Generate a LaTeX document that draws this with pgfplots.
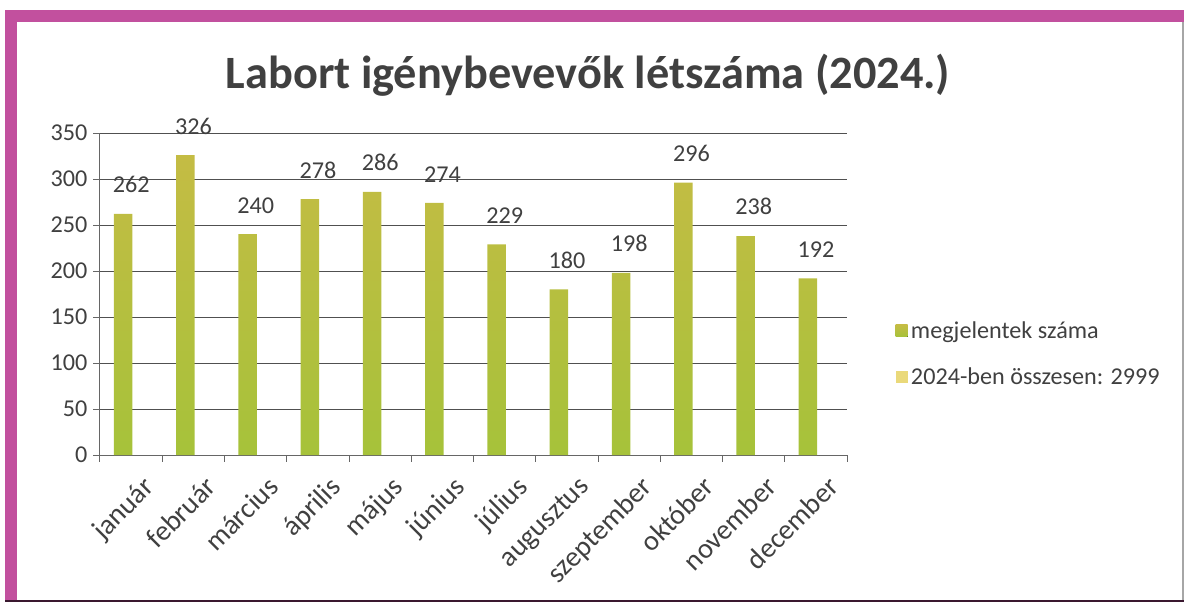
\documentclass[border=0pt]{standalone}
\usepackage{pgfplots}
\pgfplotsset{compat=1.18}
\usepackage{fontspec}
\setmainfont{Carlito}
\definecolor{txt}{HTML}{404040}
\definecolor{frameM}{HTML}{C2509E}
\definecolor{barTop}{HTML}{C4BC44}
\definecolor{barBot}{HTML}{A6C23A}
\definecolor{legY}{HTML}{EAD97A}
\definecolor{gridc}{HTML}{505050}
\pgfplotstableread{
x y
0 262
1 326
2 240
3 278
4 286
5 274
6 229
7 180
8 198
9 296
10 238
11 192
}\datatable
\begin{document}
\begin{tikzpicture}[x=0.6pt,y=0.6pt]
\path[use as bounding box] (0,0) rectangle (1188,604);
% frame
\fill[frameM] (5,2) rectangle (17,594);
\fill[frameM] (5,582) rectangle (1184,594);
\draw[gray!70, line width=0.8pt] (1183,4) -- (1183,582);
\draw[black!70!frameM, line width=1.2pt] (5,3) -- (1184,3);
% title
\node[text=txt, font=\fontsize{27.8}{30}\selectfont\bfseries] at (588,529) {Labort igénybevevők létszáma (2024.)};
\begin{axis}[
  at={(60pt,89.4pt)}, anchor=south west,
  scale only axis, width=448.2pt, height=193.2pt,
  xmin=-0.5, xmax=11.5, ymin=0, ymax=350,
  axis x line=bottom, axis y line=left,
  axis line style={-, gray!80!black, line width=0.6pt},
  ytick={0,50,...,350},
  ymajorgrids, grid style={gridc, line width=0.6pt},
  xtick={0,...,11},
  xticklabels={január,február,március,április,május,június,július,augusztus,szeptember,október,november,december},
  major x tick style={draw=none},
  minor xtick={-0.5,0.5,...,11.5},
  minor tick length=4pt,
  major tick length=4pt,
  tick align=outside,
  tick style={gray!80!black, line width=0.6pt},
  yticklabel style={text=txt, font=\fontsize{14.5}{16}\selectfont},
  xticklabel style={text=txt, font=\fontsize{17}{19}\selectfont, rotate=45, anchor=north east, inner sep=1pt, yshift=-9pt},
  /pgf/number format/assume math mode=true,
  legend style={at={(1.058,0.314)}, anchor=west, draw=none, fill=none,
    font=\fontsize{14.5}{17}\selectfont, text=txt, row sep=12pt,
    legend cell align=left},
  legend image code/.code={\fill[#1] (0pt,-3.6pt) rectangle (7.2pt,3.6pt);},
]
\addplot[ybar, bar width=11pt, bar shift=-4.8pt, draw=none, top color=barTop, bottom color=barBot,
  nodes near coords,
  nodes near coords style={text=txt, font=\fontsize{14.5}{16}\selectfont, anchor=south, yshift=9pt},
] table[x=x,y=y] {\datatable};
\addlegendentry{megjelentek száma}
\addlegendimage{fill=legY, draw=none}
\addlegendentry{2024-ben összesen: 2999}
\end{axis}
\end{tikzpicture}
\end{document}
